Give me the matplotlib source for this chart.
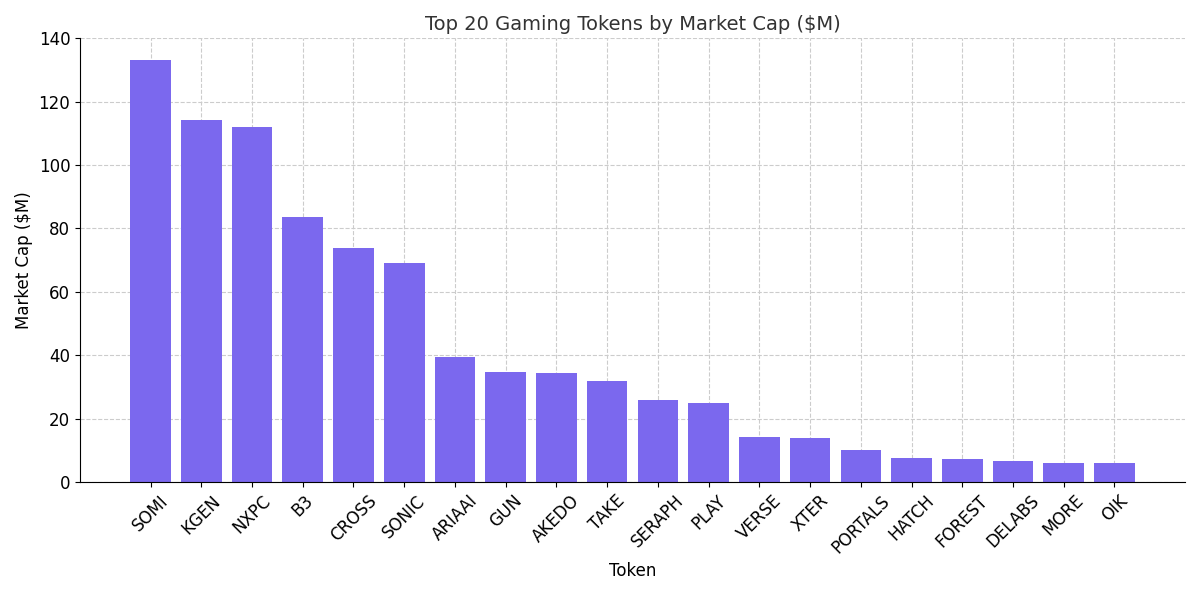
import matplotlib
matplotlib.use("Agg")
import matplotlib.pyplot as plt

tokens = ["SOMI","KGEN","NXPC","B3","CROSS","SONIC","ARIAAI","GUN","AKEDO","TAKE",
          "SERAPH","PLAY","VERSE","XTER","PORTALS","HATCH","FOREST","DELABS","MORE","OIK"]
market_cap = [133.1,114.3,111.9,83.5,73.8,69.2,39.4,34.6,34.5,31.7,
              26.0,25.0,14.2,13.9,10.2,7.6,7.1,6.7,5.9,5.9]

fig, ax = plt.subplots(figsize=(12, 5.95), dpi=100)
ax.bar(tokens, market_cap, color="#7B68EE", zorder=2)
ax.set_title("Top 20 Gaming Tokens by Market Cap ($M)", fontsize=14, color="#333333")
ax.set_xlabel("Token", fontsize=12)
ax.set_ylabel("Market Cap ($M)", fontsize=12)
ax.tick_params(axis="x", rotation=45, labelsize=12)
ax.tick_params(axis="y", labelsize=12)
ax.grid(True, linestyle="--", color="#cccccc", zorder=0)
ax.spines["top"].set_visible(False)
ax.spines["right"].set_visible(False)
ax.set_ylim(0, 140)
fig.tight_layout()
fig.savefig("out.png")
